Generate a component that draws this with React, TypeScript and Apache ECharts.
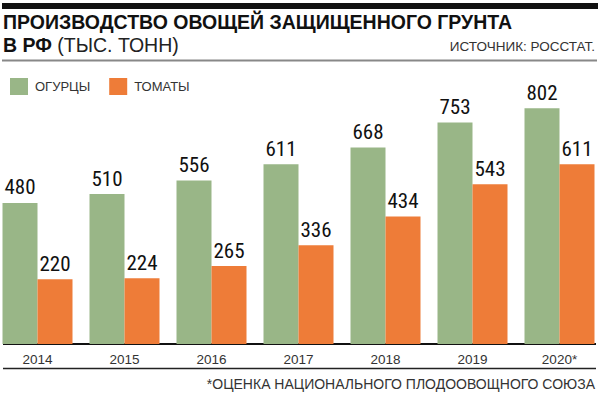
import React, { useEffect, useRef } from "react";
import * as echarts from "echarts";

const years = ["2014", "2015", "2016", "2017", "2018", "2019", "2020*"];
const cucumbers = [480, 510, 556, 611, 668, 753, 802];
const tomatoes = [220, 224, 265, 336, 434, 543, 611];
const seriesNames = ["ОГУРЦЫ", "ТОМАТЫ"];
const titleLine1 = "ПРОИЗВОДСТВО ОВОЩЕЙ ЗАЩИЩЕННОГО ГРУНТА";
const titleBold2 = "В РФ";
const titleRegular2 = " (ТЫС. ТОНН)";
const sourceText = "ИСТОЧНИК: РОССТАТ.";
const footnote = "*ОЦЕНКА НАЦИОНАЛЬНОГО ПЛОДООВОЩНОГО СОЮЗА";

const GREEN = "#99b687";
const ORANGE = "#ee7c38";
const FONT = '"Liberation Sans", Arial, sans-serif';
const NARROW = '"Liberation Sans Narrow", "Arial Narrow", "Roboto Condensed", Roboto, sans-serif';
const OFF = 6; // chart canvas starts 6px left of the page

export default function App() {
  const ref = useRef<HTMLDivElement>(null);
  useEffect(() => {
    if (!ref.current) return;
    const chart = echarts.init(ref.current, null, { renderer: "svg" });
    const labelCfg = {
      show: true,
      position: "top",
      distance: 5,
      color: "#111",
      fontSize: 21,
      fontFamily: NARROW,
    };
    const txt = (x: number, y: number, text: string, size: number, align: string, extra: any = {}) => ({
      type: "text",
      x: x + OFF,
      y,
      style: {
        text,
        fontSize: size,
        fontFamily: FONT,
        fill: "#333",
        align,
        verticalAlign: "middle",
        textAlign: align,
        textVerticalAlign: "middle",
        ...extra,
      },
    });
    chart.setOption({
      animation: false,
      backgroundColor: "#fff",
      textStyle: { fontFamily: FONT },
      legend: {
        left: 5 + OFF,
        top: 73,
        itemWidth: 18,
        itemHeight: 17,
        itemGap: 19,
        icon: "rect",
        textStyle: { fontSize: 13, color: "#333", fontFamily: FONT, padding: [1, 0, 0, 2] },
        data: seriesNames,
      },
      grid: { left: 0, right: 1, top: 50, bottom: 52, containLabel: false },
      xAxis: {
        type: "category",
        data: years,
        axisLine: { show: false },
        axisTick: { show: false },
        axisLabel: { fontSize: 13.5, color: "#333", margin: 8, fontFamily: FONT },
      },
      yAxis: {
        type: "value",
        min: 0,
        max: 1000,
        show: false,
        splitLine: { show: false },
      },
      series: [
        {
          name: seriesNames[0],
          type: "bar",
          data: cucumbers,
          barWidth: 35,
          barGap: "0%",
          itemStyle: { color: GREEN },
          label: labelCfg,
        },
        {
          name: seriesNames[1],
          type: "bar",
          data: tomatoes,
          barWidth: 35,
          barGap: "0%",
          itemStyle: { color: ORANGE },
          label: labelCfg,
        },
      ],
      graphic: [
        { type: "rect", shape: { x: 2 + OFF, y: 3, width: 596, height: 6 }, style: { fill: "#111" } },
        txt(3, 22, titleLine1, 19.5, "left", { fontWeight: "bold", fill: "#111" }),
        txt(3, 45, "{b|" + titleBold2 + "}" + titleRegular2, 19.5, "left", {
          fill: "#222",
          rich: { b: { fontSize: 19.5, fontWeight: "bold", fontFamily: FONT, fill: "#111", color: "#111" } },
        }),
        txt(595, 46, sourceText, 13.5, "right"),
        { type: "line", shape: { x1: 2 + OFF, y1: 60.5, x2: 597 + OFF, y2: 60.5 }, style: { stroke: "#888", lineWidth: 2 } },
        { type: "line", shape: { x1: 3 + OFF, y1: 344, x2: 596 + OFF, y2: 344 }, style: { stroke: "#111", lineWidth: 2 } },
        { type: "line", shape: { x1: 3 + OFF, y1: 368.5, x2: 596 + OFF, y2: 368.5 }, style: { stroke: "#222", lineWidth: 1.5 } },
        txt(595, 384, footnote, 14, "right"),
      ],
    });
    return () => chart.dispose();
  }, []);
  return (
    <div style={{ width: 600, height: 396, position: "absolute", left: 0, top: 0, overflow: "hidden" }}>
      <div ref={ref} style={{ width: 610, height: 396, position: "absolute", left: -OFF, top: 0 }} />
    </div>
  );
}
